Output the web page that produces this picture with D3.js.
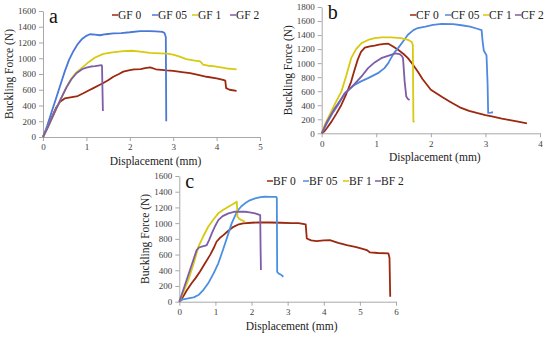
<!DOCTYPE html>
<html lang="en">
<head>
<meta charset="UTF-8" />
<title>Buckling force</title>
<script src="https://cdn.jsdelivr.net/npm/d3@7"></script>
<style>
  body { margin: 0; background: #fff; }
  svg { display: block; }
</style>
</head>
<body>
<svg width="550" height="339"></svg>
<script>
// panel a: glass fibre, [displacement mm, force N]
const gf0 = [[0,0],[0.1,120],[0.2,250],[0.3,370],[0.4,450],[0.5,490],[0.6,500],[0.7,510],[0.8,520],[0.93,555],[1.05,590],[1.16,620],[1.3,660],[1.39,685],[1.5,720],[1.62,765],[1.75,800],[1.85,830],[2.0,850],[2.1,860],[2.25,862],[2.35,875],[2.47,885],[2.6,860],[2.85,845],[3.0,840],[3.2,825],[3.39,810],[3.6,785],[3.77,765],[4.0,745],[4.15,725],[4.2,715],[4.22,620],[4.3,600],[4.46,585]];
const gf05 = [[0,0],[0.1,150],[0.2,320],[0.3,490],[0.4,660],[0.5,830],[0.6,980],[0.7,1090],[0.8,1180],[0.9,1245],[1.0,1285],[1.08,1305],[1.2,1300],[1.31,1292],[1.45,1305],[1.62,1315],[1.8,1320],[2.0,1330],[2.24,1345],[2.45,1345],[2.6,1340],[2.75,1335],[2.8,1320],[2.83,1270],[2.84,200]];
const gf1 = [[0,0],[0.1,110],[0.2,230],[0.3,350],[0.4,470],[0.54,630],[0.65,740],[0.77,820],[0.93,893],[1.05,950],[1.2,1010],[1.39,1055],[1.6,1075],[1.85,1090],[2.05,1095],[2.24,1084],[2.46,1068],[2.7,1063],[2.85,1060],[3.0,1045],[3.15,1020],[3.3,990],[3.5,970],[3.62,960],[3.69,920],[3.8,905],[3.92,900],[4.1,885],[4.23,870],[4.35,865],[4.46,860]];
const gf2 = [[0,0],[0.1,110],[0.2,230],[0.3,350],[0.4,470],[0.54,630],[0.65,730],[0.77,810],[0.9,860],[1.0,880],[1.1,895],[1.2,900],[1.35,912],[1.36,900],[1.38,330]];

// panel b: carbon fibre
const cf0 = [[0,0],[0.05,30],[0.1,80],[0.18,166],[0.27,280],[0.36,404],[0.45,560],[0.54,737],[0.6,900],[0.66,1050],[0.72,1160],[0.79,1220],[0.88,1240],[0.97,1250],[1.05,1265],[1.15,1275],[1.22,1276],[1.3,1240],[1.4,1190],[1.5,1130],[1.58,1071],[1.67,980],[1.76,880],[1.85,770],[2.0,620],[2.1,570],[2.2,520],[2.35,450],[2.53,370],[2.7,320],[2.84,290],[3.0,260],[3.14,237],[3.3,210],[3.45,188],[3.6,165],[3.76,143]];
const cf05 = [[0,0],[0.1,150],[0.2,290],[0.3,404],[0.42,571],[0.6,690],[0.72,740],[0.85,786],[1.03,857],[1.15,929],[1.22,1000],[1.27,1071],[1.33,1150],[1.4,1214],[1.5,1320],[1.58,1404],[1.68,1470],[1.76,1500],[1.9,1520],[2.04,1545],[2.2,1560],[2.41,1557],[2.56,1540],[2.72,1520],[2.85,1490],[2.93,1470],[2.95,1300],[2.97,1180],[3.02,1110],[3.04,700],[3.05,290],[3.1,295],[3.14,300]];
const cf1 = [[0,0],[0.055,119],[0.15,270],[0.25,430],[0.36,594],[0.45,820],[0.54,1071],[0.63,1200],[0.73,1286],[0.85,1330],[0.97,1357],[1.1,1366],[1.27,1366],[1.45,1355],[1.58,1333],[1.65,1300],[1.67,1260],[1.68,170],[1.7,160]];
const cf2 = [[0,0],[0.1,170],[0.24,357],[0.42,560],[0.6,700],[0.75,830],[0.85,929],[0.97,1010],[1.09,1071],[1.2,1100],[1.27,1119],[1.35,1140],[1.43,1128],[1.47,1100],[1.49,1071],[1.52,737],[1.55,523],[1.58,490],[1.61,476]];

// panel c: basalt fibre
const bf0 = [[0,0],[0.1,60],[0.2,140],[0.34,234],[0.45,300],[0.57,381],[0.7,480],[0.85,593],[0.95,680],[1.03,763],[1.12,810],[1.22,847],[1.35,900],[1.5,953],[1.62,980],[1.77,996],[2.0,1005],[2.2,1010],[2.5,1008],[2.8,1005],[3.1,1000],[3.3,1000],[3.5,985],[3.53,805],[3.65,780],[3.8,771],[4.0,780],[4.17,784],[4.4,750],[4.64,720],[4.9,695],[5.1,670],[5.19,657],[5.28,627],[5.5,620],[5.79,614],[5.82,560],[5.84,64]];
const bf05 = [[0,0],[0.1,30],[0.25,43],[0.4,55],[0.53,85],[0.65,140],[0.8,234],[0.95,360],[1.08,489],[1.18,620],[1.27,743],[1.36,870],[1.45,997],[1.55,1100],[1.63,1167],[1.72,1215],[1.82,1252],[1.95,1290],[2.1,1315],[2.25,1330],[2.37,1336],[2.5,1335],[2.68,1335],[2.7,1320],[2.71,380],[2.75,360],[2.83,339],[2.88,318]];
const bf1 = [[0,0],[0.1,110],[0.25,276],[0.4,490],[0.53,700],[0.65,820],[0.8,954],[0.95,1050],[1.08,1125],[1.22,1170],[1.36,1209],[1.48,1240],[1.59,1272],[1.6,1200],[1.61,1081],[1.67,1050],[1.73,1039],[1.82,1018]];
const bf2 = [[0,0],[0.1,137],[0.2,274],[0.3,410],[0.4,547],[0.48,657],[0.55,690],[0.62,700],[0.7,710],[0.76,721],[0.83,790],[0.9,870],[1.0,970],[1.08,1039],[1.2,1090],[1.36,1125],[1.54,1145],[1.7,1145],[1.82,1145],[1.95,1138],[2.1,1125],[2.24,1103],[2.25,700],[2.26,403]];

const gfNames = ["GF 0", "GF 05", "GF 1", "GF 2"];
const cfNames = ["CF 0", "CF 05", "CF 1", "CF 2"];
const bfNames = ["BF 0", "BF 05", "BF 1", "BF 2"];

const serif = '"Liberation Serif", "Times New Roman", serif';
const svg = d3.select("svg");

function drawPanel(p) {
  const x = d3.scaleLinear().domain([0, p.xMax]).range([p.left, p.right]);
  const y = d3.scaleLinear().domain([0, p.yMax]).range([p.bottom, p.top]);
  const g = svg.append("g");

  const yAxis = d3.axisLeft(y).tickValues(d3.range(0, p.yMax + 1, 200))
    .tickFormat(d3.format("d")).tickSize(4).tickSizeOuter(0).tickPadding(3);
  const xAxis = d3.axisBottom(x).tickValues(d3.range(0, p.xMax + 1, 1))
    .tickFormat(d3.format("d")).tickSize(4).tickSizeOuter(0).tickPadding(3);

  const ya = g.append("g").attr("transform", `translate(${p.left},0)`).call(yAxis);
  const xa = g.append("g").attr("transform", `translate(0,${p.bottom})`).call(xAxis);
  [ya, xa].forEach(a => {
    a.attr("font-family", serif).attr("font-size", 9);
    a.select(".domain").attr("stroke", "#a8a8a8");
    a.selectAll(".tick line").attr("stroke", "#a8a8a8");
    a.selectAll(".tick text").attr("fill", "#404040");
  });

  const line = d3.line().x(d => x(d[0])).y(d => y(d[1]));
  p.series.forEach((s, i) => {
    g.append("path").attr("d", line(s)).attr("fill", "none")
      .attr("stroke", p.colors[i]).attr("stroke-width", 1.8)
      .attr("stroke-linejoin", "round");
  });

  // axis titles
  g.append("text").attr("x", (p.left + p.right) / 2 + 4).attr("y", p.bottom + 28)
    .attr("text-anchor", "middle").attr("font-family", serif).attr("font-size", 11.5)
    .attr("fill", "#222").text("Displacement (mm)");
  g.append("text")
    .attr("transform", `translate(${p.left - 30},${(p.top + p.bottom) / 2}) rotate(-90)`)
    .attr("text-anchor", "middle").attr("font-family", serif).attr("font-size", 11.5)
    .attr("fill", "#222").text("Buckling Force (N)");

  // panel letter
  g.append("text").attr("x", p.left + 6).attr("y", p.top + 12)
    .attr("font-family", serif).attr("font-size", 20).attr("fill", "#111").text(p.letter);

  // legend
  p.names.forEach((n, i) => {
    const lx = p.legendX[i];
    g.append("line").attr("x1", lx).attr("x2", lx + 6)
      .attr("y1", p.legendY).attr("y2", p.legendY)
      .attr("stroke", p.colors[i]).attr("stroke-width", 1.5);
    g.append("text").attr("x", lx + 6).attr("y", p.legendY + 4)
      .attr("font-family", serif).attr("font-size", 11.5).attr("fill", "#222").text(n);
  });
}

drawPanel({
  letter: "a", series: [gf0, gf05, gf1, gf2], names: gfNames,
  colors: ["#9c2810", "#4a78d8", "#d8ca10", "#7d5ca8"],
  xMax: 5, yMax: 1600, left: 43, right: 260, top: 11, bottom: 137,
  legendX: [112, 152, 192, 230], legendY: 15
});
drawPanel({
  letter: "b", series: [cf0, cf05, cf1, cf2], names: cfNames,
  colors: ["#9c2810", "#5088e0", "#d8ca10", "#7d5ca8"],
  xMax: 4, yMax: 1800, left: 321.7, right: 540, top: 7, bottom: 133.3,
  legendX: [410, 445, 483, 515], legendY: 15
});
drawPanel({
  letter: "c", series: [bf0, bf05, bf1, bf2], names: bfNames,
  colors: ["#9c2810", "#4a90e2", "#d8ca10", "#7d5ca8"],
  xMax: 6, yMax: 1600, left: 179.3, right: 396, top: 176, bottom: 301.7,
  legendX: [267, 303, 343, 375], legendY: 181
});
</script>
</body>
</html>
